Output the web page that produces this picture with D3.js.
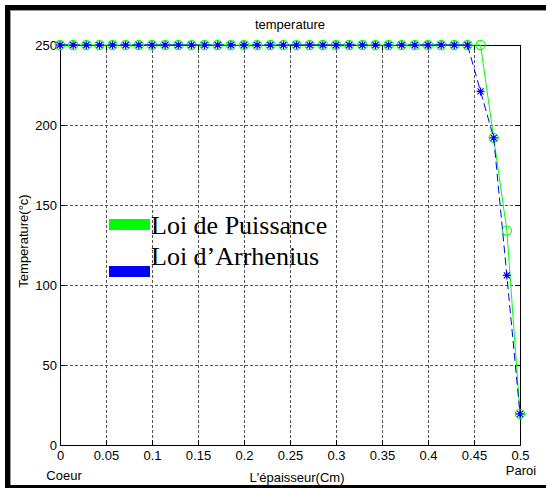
<!DOCTYPE html>
<html>
<head>
<meta charset="utf-8">
<script src="https://cdn.jsdelivr.net/npm/d3@7"></script>
<style>
  body { margin: 0; background: #fff; }
  svg text { font-family: Arial, "Liberation Sans", sans-serif; }
</style>
</head>
<body>
<div id="chart-area"></div>
<script>
// thickness positions (cm), core -> wall
var epaisseur = [0, 0.0143, 0.0286, 0.0429, 0.0571, 0.0714, 0.0857, 0.1, 0.1143, 0.1286,
    0.1429, 0.1571, 0.1714, 0.1857, 0.2, 0.2143, 0.2286, 0.2429, 0.2571, 0.2714,
    0.2857, 0.3, 0.3143, 0.3286, 0.3429, 0.3571, 0.3714, 0.3857, 0.4, 0.4143,
    0.4286, 0.4429, 0.4571, 0.4714, 0.4857, 0.5];

// Loi de Puissance
var tempPuissance = [250, 250, 250, 250, 250, 250, 250, 250, 250, 250,
    250, 250, 250, 250, 250, 250, 250, 250, 250, 250,
    250, 250, 250, 250, 250, 250, 250, 250, 250, 250,
    250, 250, 250, 192, 134, 19.5];

// Loi d'Arrhenius
var tempArrhenius = [250, 250, 250, 250, 250, 250, 250, 250, 250, 250,
    250, 250, 250, 250, 250, 250, 250, 250, 250, 250,
    250, 250, 250, 250, 250, 250, 250, 250, 250, 250,
    250, 250, 221, 192, 106, 19.5];

var xTicks = [0, 0.05, 0.1, 0.15, 0.2, 0.25, 0.3, 0.35, 0.4, 0.45, 0.5];
var yTicks = [0, 50, 100, 150, 200, 250];
var legendLabels = ["Loi de Puissance", "Loi d\u2019Arrhenius"];

var W = 547, H = 488;
var margin = { left: 60, right: 27, top: 45, bottom: 43 },
    width = W - margin.left - margin.right,
    height = H - margin.top - margin.bottom;

var svg = d3.select("#chart-area").append("svg")
    .attr("width", W)
    .attr("height", H);

// frame
svg.append("rect").attr("x", 5).attr("y", 5).attr("width", 541).attr("height", 5).attr("fill", "#000");
svg.append("rect").attr("x", 5).attr("y", 5).attr("width", 5).attr("height", 483).attr("fill", "#000");
svg.append("rect").attr("x", 5).attr("y", 485).attr("width", 541).attr("height", 3).attr("fill", "#000");
svg.append("line").attr("x1", 10).attr("x2", 546).attr("y1", 10.5).attr("y2", 10.5).attr("stroke", "#999");
svg.append("line").attr("x1", 10.5).attr("x2", 10.5).attr("y1", 10).attr("y2", 485).attr("stroke", "#999");

var g = svg.append("g")
    .attr("transform", "translate(" + margin.left + "," + margin.top + ")");

var x = d3.scaleLinear().domain([0, 0.5]).range([0, width]);
var y = d3.scaleLinear().domain([0, 250]).range([height, 0]);

// grid
g.selectAll(".vgrid").data(xTicks.slice(1, -1)).enter().append("line")
    .attr("x1", d => Math.round(x(d)) + 0.5).attr("x2", d => Math.round(x(d)) + 0.5)
    .attr("y1", 0).attr("y2", height)
    .attr("stroke", "#555").attr("stroke-dasharray", "3,2");
g.selectAll(".hgrid").data(yTicks.slice(1, -1)).enter().append("line")
    .attr("y1", d => Math.round(y(d)) + 0.5).attr("y2", d => Math.round(y(d)) + 0.5)
    .attr("x1", 0).attr("x2", width)
    .attr("stroke", "#555").attr("stroke-dasharray", "3,2");

// axes (ticks inward)
var xAxisCall = d3.axisBottom(x).tickValues(xTicks).tickSize(-5).tickPadding(6)
    .tickFormat(d => d3.format("")(d));
var yAxisCall = d3.axisLeft(y).tickValues(yTicks).tickSize(-5).tickPadding(3);

var xAxis = g.append("g").attr("transform", "translate(0," + height + ")").call(xAxisCall);
var yAxis = g.append("g").call(yAxisCall);
g.append("g").call(d3.axisTop(x).tickValues(xTicks).tickSize(-5).tickFormat(""));
g.append("g").attr("transform", "translate(" + width + ",0)")
    .call(d3.axisRight(y).tickValues(yTicks).tickSize(-5).tickFormat(""));

g.selectAll(".domain").attr("stroke", "#000");
g.selectAll(".tick line").attr("stroke", "#000");
g.selectAll(".tick text").attr("font-size", "13px").attr("fill", "#000");

// labels
g.append("text").attr("x", width / 2).attr("y", -16)
    .attr("text-anchor", "middle").attr("font-size", "13px").text("temperature");
g.append("text").attr("x", 237).attr("y", height + 37)
    .attr("text-anchor", "middle").attr("font-size", "13px").text("L'épaisseur(Cm)");
g.append("text").attr("transform", "rotate(-90)")
    .attr("x", -height / 2 + 4).attr("y", -32)
    .attr("text-anchor", "middle").attr("font-size", "13px").text("Temperature(°c)");
g.append("text").attr("x", 4).attr("y", height + 35)
    .attr("text-anchor", "middle").attr("font-size", "13px").text("Coeur");
g.append("text").attr("x", width + 1).attr("y", height + 30)
    .attr("text-anchor", "middle").attr("font-size", "13px").text("Paroi");

// series
var seriesP = epaisseur.map((d, i) => ({ x: d, v: tempPuissance[i] }));
var seriesA = epaisseur.map((d, i) => ({ x: d, v: tempArrhenius[i] }));

var line = d3.line()
    .x(d => x(d.x))
    .y(d => y(d.v));

g.append("path").attr("d", line(seriesP))
    .attr("fill", "none").attr("stroke", "#00ff00").attr("stroke-width", 1);
g.selectAll(".circ").data(seriesP).enter().append("circle")
    .attr("cx", d => x(d.x)).attr("cy", d => y(d.v)).attr("r", 4.6)
    .attr("fill", "none").attr("stroke", "#00ff00").attr("stroke-width", 1.1);

g.append("path").attr("d", line(seriesA))
    .attr("fill", "none").attr("stroke", "#0000ff").attr("stroke-width", 1)
    .attr("stroke-dasharray", "8,4");
var s = 4, s2 = 3;
var star = "M0," + (-s) + "V" + s + "M" + (-s) + ",0H" + s +
    "M" + (-s2) + "," + (-s2) + "L" + s2 + "," + s2 +
    "M" + (-s2) + "," + s2 + "L" + s2 + "," + (-s2);
g.selectAll(".star").data(seriesA).enter().append("path")
    .attr("transform", d => "translate(" + x(d.x) + "," + y(d.v) + ")")
    .attr("d", star).attr("fill", "none").attr("stroke", "#0000ff").attr("stroke-width", 1.2);

// legend
var legendColors = ["#00ff00", "#0000ff"];
var legendBarY = [174, 221];
var legendTextY = [189, 220];
legendLabels.forEach(function(lbl, i) {
    g.append("rect").attr("x", 49).attr("y", legendBarY[i]).attr("width", 41).attr("height", 11)
        .attr("fill", legendColors[i]);
    g.append("text").attr("x", 91).attr("y", legendTextY[i])
        .style("font-family", "'Liberation Serif', 'Times New Roman', serif")
        .attr("font-size", "26px").attr("fill", "#000").text(lbl);
});
</script>
</body>
</html>
